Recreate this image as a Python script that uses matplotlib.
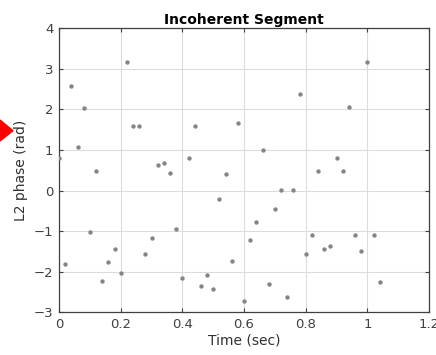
import numpy as np
import matplotlib.pyplot as plt
from matplotlib.patches import Polygon

# phase samples, every 0.02 s
time_sec = np.arange(53) * 0.02
phase_rad = [0.80, -1.81, 2.57, 1.08, 2.04, -1.03, 0.48, -2.22, -1.77, -1.44,
             -2.02, 3.16, 1.59, 1.59, -1.56, -1.16, 0.62, 0.69, 0.44, -0.94,
             -2.15, 0.80, 1.59, -2.35, -2.09, -2.42, -0.21, 0.42, -1.74, 1.67,
             -2.72, -1.21, -0.77, 1.00, -2.30, -0.45, 0.02, -2.63, 0.02, 2.37,
             -1.56, -1.09, 0.48, -1.44, -1.36, 0.80, 0.48, 2.05, -1.09, -1.49,
             3.16, -1.09, -2.25]

xticks = [0, 0.2, 0.4, 0.6, 0.8, 1, 1.2]
xticklabels = ['0', '0.2', '0.4', '0.6', '0.8', '1', '1.2']
yticks = [-3, -2, -1, 0, 1, 2, 3, 4]

fig = plt.figure(figsize=(4.36, 3.55), dpi=100)
ax = fig.add_axes([59/436, 1 - 312.3/355, (429 - 59)/436, (312.3 - 28.3)/355])

ax.scatter(time_sec, phase_rad, s=10, color='#858585', zorder=3, linewidths=0)

ax.set_xlim(0, 1.2)
ax.set_ylim(-3, 4)
ax.set_xticks(xticks)
ax.set_xticklabels(xticklabels)
ax.set_yticks(yticks)
ax.grid(True, color='#dcdcdc', linewidth=0.8)
ax.set_axisbelow(True)
ax.tick_params(direction='in', top=True, right=True, labelsize=9.5,
               colors='#404040', length=3, pad=4)
for s in ax.spines.values():
    s.set_color('#404040')
    s.set_linewidth(0.9)

ax.set_xlabel('Time (sec)', fontsize=10, color='#303030', labelpad=2)
ax.set_ylabel('L2 phase (rad)', fontsize=10, color='#303030', labelpad=4)
ax.set_title('Incoherent Segment', fontsize=10, fontweight='bold', pad=3)

# red pointer on the left edge
fig.patches.append(Polygon([[0, 1 - 120/355], [13/436, 1 - 130.7/355], [0, 1 - 141/355]],
                           closed=True, transform=fig.transFigure, color='red'))

fig.savefig('out.png', dpi=100)
